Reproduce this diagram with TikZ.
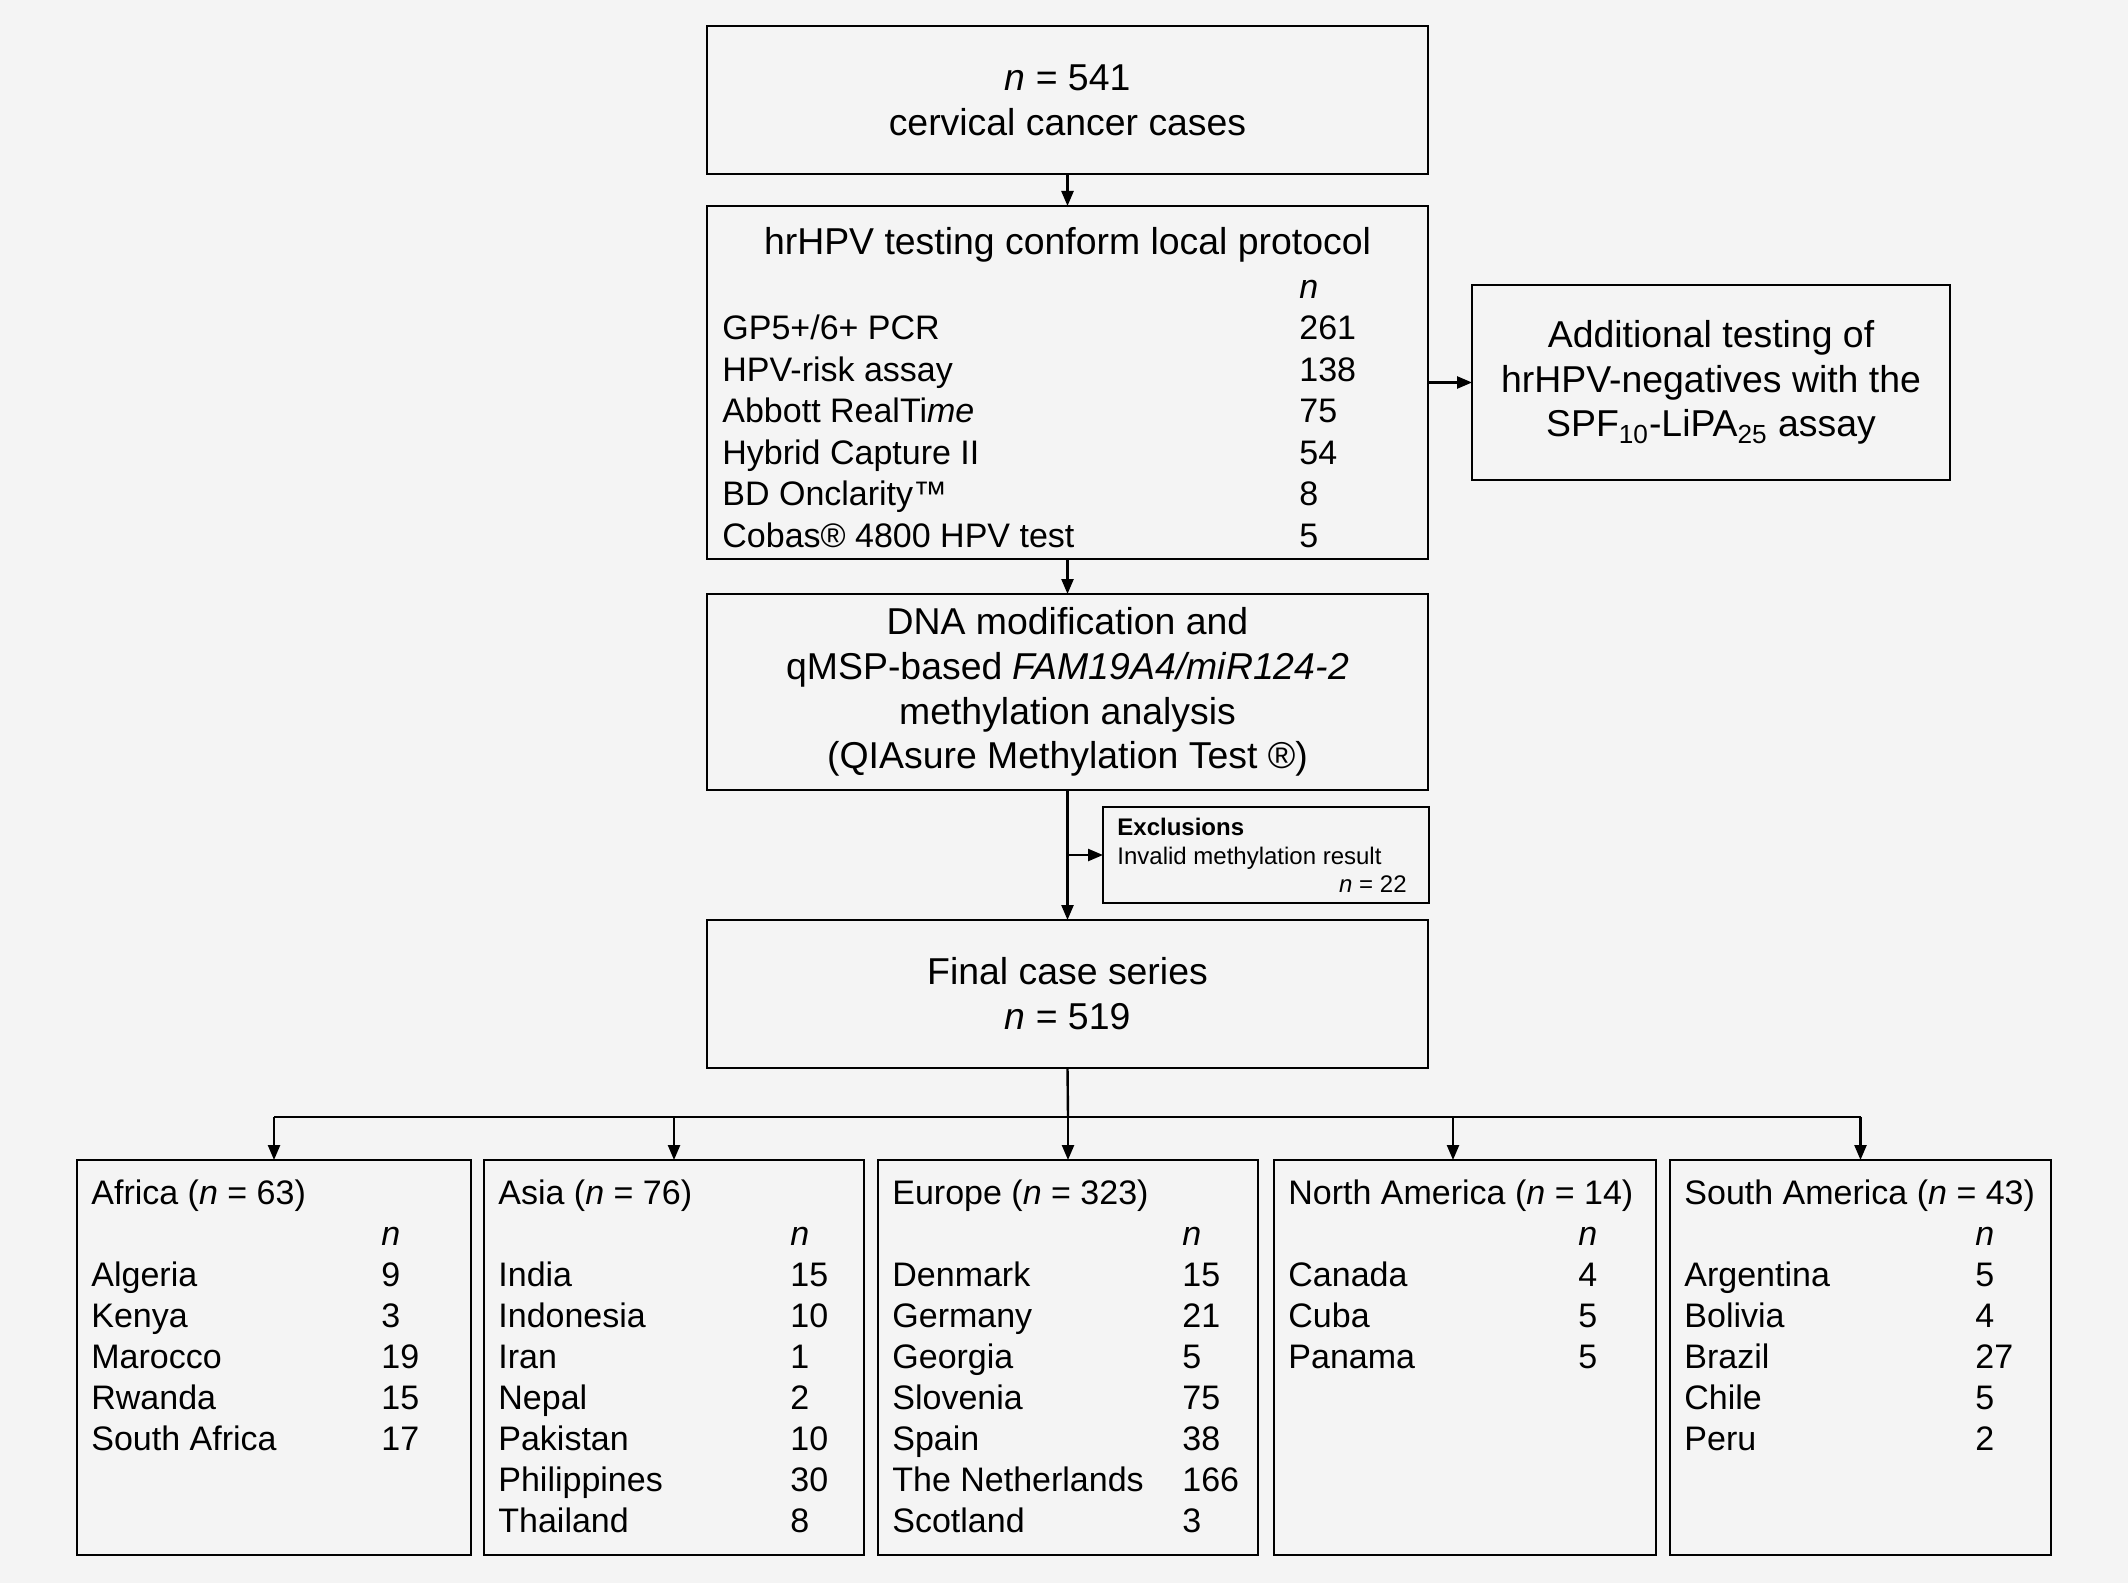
\documentclass[tikz,border=0pt]{standalone}
\usepackage{fontspec}
\setmainfont{Liberation Sans}
\usetikzlibrary{arrows.meta}
\definecolor{bgcol}{HTML}{F4F4F4}
\begin{document}
\begin{tikzpicture}[x=0.5pt,y=-0.5pt,
  box/.style={draw=black,line width=1.4pt,inner sep=0pt,outer sep=0pt,fill=bgcol},
  bigtxt/.style={align=center,font=\fontsize{18.7}{22.4}\selectfont},
  tabtxt/.style={anchor=base west,inner sep=0pt,font=\fontsize{17}{20.6}\selectfont},
  smalltxt/.style={inner sep=0pt,font=\fontsize{12}{14.3}\selectfont},
  arr/.style={line width=1.2pt,-{Triangle[length=7.5pt,width=6pt]}},
  ln/.style={line width=1.2pt}]
\useasboundingbox (0,0) rectangle (2128,1583);
\fill[bgcol] (0,0) rectangle (2128,1583);

% main column
\node[box,bigtxt,minimum width=360.5pt,minimum height=74pt] (top) at (1067.5,100)
  {\textit{n} = 541\\cervical cancer cases};
\node[box,minimum width=360.5pt,minimum height=176.5pt] (hr) at (1067.5,382.5) {};
\node[box,bigtxt,minimum width=239pt,minimum height=97.5pt] (add) at (1711,382.5)
  {Additional testing of\\hrHPV-negatives with the\\SPF\textsubscript{10}-LiPA\textsubscript{25} assay};
\node[box,bigtxt,minimum width=360.5pt,minimum height=98pt] (dna) at (1067.5,692)
  {DNA modification and\\qMSP-based \textit{FAM19A4/miR124-2}\\methylation analysis\\(QIAsure Methylation Test ®)};
\node[box,minimum width=163pt,minimum height=48pt] (exc) at (1266,855) {};
\node[box,bigtxt,minimum width=360.5pt,minimum height=74pt] (fin) at (1067.5,994)
  {Final case series\\\textit{n} = 519};

% hrHPV box content
\node[anchor=base,inner sep=0pt,font=\fontsize{18.7}{22.4}\selectfont] (hrtitle) at (1067.5,255)
  {hrHPV testing conform local protocol};
\node[tabtxt] (hrn) at (1299,298.6) {\textit{n}};
\foreach \lab/\num [count=\i] in {{GP5+/6+ PCR}/261, HPV-risk assay/138, {Abbott RealTi\textit{me}}/75,
  Hybrid Capture II/54, BD Onclarity™/8, Cobas® 4800 HPV test/5} {
  \node[tabtxt] (hr-l\i) at (722,{340+41.4*(\i-1)}) {\lab};
  \node[tabtxt] (hr-n\i) at (1299,{340+41.4*(\i-1)}) {\num};
}

% exclusions content
\node[smalltxt,anchor=base west] (exc1) at (1117,835) {\textbf{Exclusions}};
\node[smalltxt,anchor=base west] (exc2) at (1117,864) {Invalid methylation result};
\node[smalltxt,anchor=base east] (exc3) at (1407,892) {\textit{n} = 22};

% bottom boxes
\node[box,minimum width=197pt,minimum height=197.5pt] (af) at (274,1357.5) {};
\node[box,minimum width=190pt,minimum height=197.5pt] (as) at (674,1357.5) {};
\node[box,minimum width=190pt,minimum height=197.5pt] (eu) at (1068,1357.5) {};
\node[box,minimum width=191pt,minimum height=197.5pt] (na) at (1465,1357.5) {};
\node[box,minimum width=190.5pt,minimum height=197.5pt] (sa) at (1860.5,1357.5) {};

% Africa
\node[tabtxt] (af-t) at (91,1204) {Africa (\textit{n} = 63)};
\node[tabtxt] (af-n) at (381,1245) {\textit{n}};
\foreach \lab/\num [count=\i] in {Algeria/9, Kenya/3, Marocco/19, Rwanda/15, South Africa/17} {
  \node[tabtxt] (af-l\i) at (91,{1286+41*(\i-1)}) {\lab};
  \node[tabtxt] (af-n\i) at (381,{1286+41*(\i-1)}) {\num};
}
% Asia
\node[tabtxt] (as-t) at (498,1204) {Asia (\textit{n} = 76)};
\node[tabtxt] (as-n) at (790,1245) {\textit{n}};
\foreach \lab/\num [count=\i] in {India/15, Indonesia/10, Iran/1, Nepal/2, Pakistan/10, Philippines/30, Thailand/8} {
  \node[tabtxt] (as-l\i) at (498,{1286+41*(\i-1)}) {\lab};
  \node[tabtxt] (as-n\i) at (790,{1286+41*(\i-1)}) {\num};
}
% Europe
\node[tabtxt] (eu-t) at (892,1204) {Europe (\textit{n} = 323)};
\node[tabtxt] (eu-n) at (1182,1245) {\textit{n}};
\foreach \lab/\num [count=\i] in {Denmark/15, Germany/21, Georgia/5, Slovenia/75, Spain/38, The Netherlands/166, Scotland/3} {
  \node[tabtxt] (eu-l\i) at (892,{1286+41*(\i-1)}) {\lab};
  \node[tabtxt] (eu-n\i) at (1182,{1286+41*(\i-1)}) {\num};
}
% North America
\node[tabtxt] (na-t) at (1288,1204) {North America (\textit{n} = 14)};
\node[tabtxt] (na-n) at (1578,1245) {\textit{n}};
\foreach \lab/\num [count=\i] in {Canada/4, Cuba/5, Panama/5} {
  \node[tabtxt] (na-l\i) at (1288,{1286+41*(\i-1)}) {\lab};
  \node[tabtxt] (na-n\i) at (1578,{1286+41*(\i-1)}) {\num};
}
% South America
\node[tabtxt] (sa-t) at (1684,1204) {South America (\textit{n} = 43)};
\node[tabtxt] (sa-n) at (1975,1245) {\textit{n}};
\foreach \lab/\num [count=\i] in {Argentina/5, Bolivia/4, Brazil/27, Chile/5, Peru/2} {
  \node[tabtxt] (sa-l\i) at (1684,{1286+41*(\i-1)}) {\lab};
  \node[tabtxt] (sa-n\i) at (1975,{1286+41*(\i-1)}) {\num};
}

% connectors
\draw[arr] (top.south) -- (hr.north);
\draw[arr] (hr.east) -- (add.west);
\draw[arr] (hr.south) -- (dna.north);
\draw[arr] (dna.south) -- (fin.north);
\draw[arr] (dna.south |- exc.west) -- (exc.west);
\coordinate (br) at (1068,1117);
\coordinate (natop) at (1453,1160);
\draw[ln] (fin.south) -- (br);
\draw[ln] (br -| af.north) -- (br -| sa.north);
\draw[arr] (br -| af.north) -- (af.north);
\draw[arr] (br -| as.north) -- (as.north);
\draw[arr] (br -| eu.north) -- (eu.north);
\draw[arr] (br -| natop) -- (natop);
\draw[arr] (br -| sa.north) -- (sa.north);
\end{tikzpicture}
\end{document}
